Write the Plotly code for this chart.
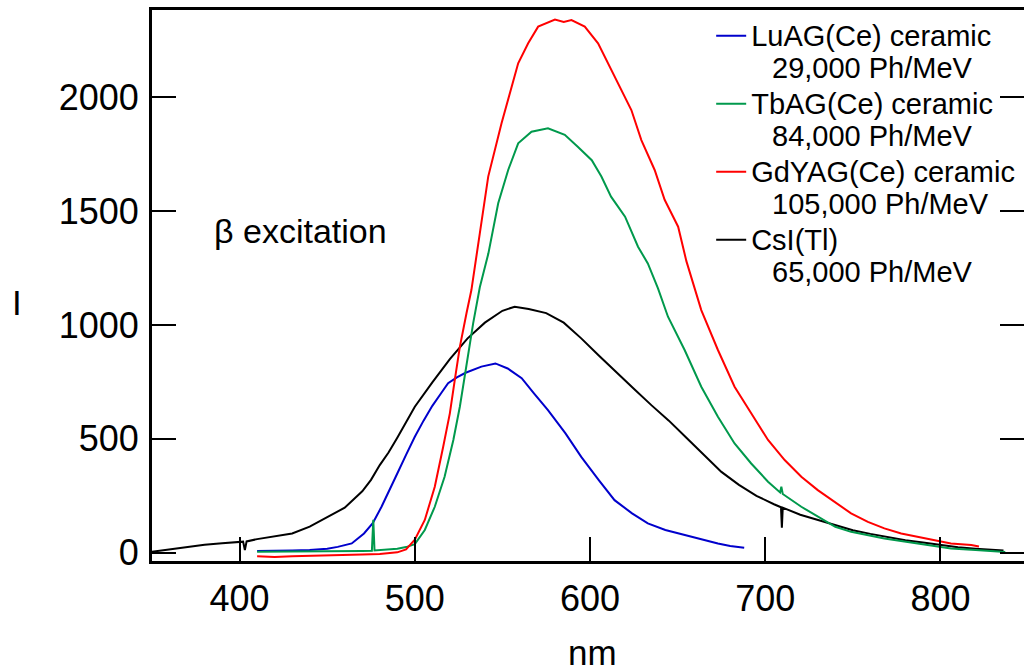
import plotly.graph_objects as go

# ---------------- data ----------------
csi_nm = [350, 360, 370, 380, 390, 400, 402, 403, 404, 410, 420, 430, 440, 450, 460, 470, 475,
          480, 485, 490, 495, 500, 510, 520, 530, 540, 550, 557, 565, 575, 585, 595, 605,
          615, 625, 635, 645, 655, 665, 675, 685, 695, 705, 709, 709.5, 710, 720, 730, 740,
          750, 760, 770, 780, 790, 800, 810, 820, 830, 836]
csi_i = [5, 15, 26, 35, 42, 48, 49, 12, 50, 60, 73, 85, 115, 155, 198, 270, 320,
         385, 440, 505, 575, 641, 748, 850, 940, 1010, 1062, 1080, 1070, 1052, 1010, 941, 866,
         795, 720, 648, 580, 505, 430, 355, 298, 250, 213, 200, 110, 198, 167, 144, 121,
         99, 83, 68, 55, 45, 35, 24, 18, 13, 10]

luag_nm = [410, 420, 430, 440, 450, 456, 464, 471, 476, 481, 486, 490, 495, 500, 505, 510, 515,
           519, 524, 529, 538, 546, 553, 561, 568, 576, 586, 595, 605, 614, 624, 633, 643,
           653, 663, 673, 680, 688]
luag_i = [8, 8, 10, 12, 18, 26, 41, 85, 130, 202, 280, 348, 430, 509, 580, 645, 700,
          744, 770, 790, 817, 831, 809, 766, 700, 626, 524, 421, 319, 231, 173, 129, 100,
          80, 60, 41, 30, 22]

tbag_nm = [410, 430, 450, 470, 475.5, 476.3, 477, 485, 490, 495, 500, 505.7, 511.4, 517, 522,
           525.7, 529.5, 533.3, 537.1, 542, 547.6, 553.3, 559, 566.6, 576, 585.6, 593, 601,
           606.5, 612, 620, 627.4, 633, 638.8, 644.5, 654, 663.5, 673, 682.5, 692, 701.6,
           708.5, 709.2, 710, 720.6, 730, 740, 749, 768, 787, 806, 820, 837]
tbag_i = [5, 5, 6, 8, 9, 145, 10, 14, 18, 25, 38, 100, 202, 334, 495,
          641, 831, 1007, 1165, 1314, 1534, 1680, 1797, 1848, 1863, 1834, 1782, 1723,
          1651, 1563, 1475, 1343, 1270, 1160, 1036, 890, 729, 597, 480, 392, 312,
          265, 290, 258, 202, 158, 114, 92, 63, 41, 19, 12, 4]

gdyag_nm = [410, 420, 430, 440, 450, 460, 470, 480, 490, 495, 500, 505.7, 511.4, 516.2, 520,
            522.8, 525.7, 529.5, 532.3, 537.1, 541.9, 549.5, 559, 564.7, 570.4, 580, 585,
            589.4, 597, 604.6, 610.3, 617.9, 623.6, 629.3, 636.9, 642.6, 650.3, 655, 663.5,
            673, 682.5, 692, 701.6, 711.1, 720.6, 730, 739.6, 749, 758.6, 768, 777.6, 787,
            796.6, 806, 817.6, 822]
gdyag_i = [-15, -18, -15, -14, -12, -10, -8, -5, 2, 15, 58, 144, 290, 465, 612,
           758, 904, 1051, 1153, 1402, 1651, 1885, 2148, 2236, 2309, 2340, 2330,
           2338, 2309, 2236, 2148, 2031, 1943, 1811, 1680, 1549, 1431, 1280, 1065,
           890, 729, 612, 495, 407, 334, 275, 224, 173, 136, 107, 85, 70,
           56, 41, 34, 28]

series_names = [
    "LuAG(Ce) ceramic", "TbAG(Ce) ceramic", "GdYAG(Ce) ceramic", "CsI(Tl)"]
series_yields = ["29,000 Ph/MeV", "84,000 Ph/MeV", "105,000 Ph/MeV", "65,000 Ph/MeV"]
series_colors = ["#0000cc", "#00994c", "#ff0000", "#000000"]

x_ticks = [400, 500, 600, 700, 800]
y_ticks = [0, 500, 1000, 1500, 2000]
x_range = [350, 847.7]
y_range = [-36, 2382]

# ---------------- figure ----------------
OFF = 0  # body margin is removed below
W, H = 1024, 671
ML, MR, MT, MB = 151.5, 0, 10, 110
FONT = "Liberation Sans, Arial, Helvetica, sans-serif"

pw = W - ML - MR
ph = H - MT - MB


def px_x(p):
    return (p - OFF - ML) / pw


def px_y(p):
    return 1 - (p - OFF - MT) / ph


def label(name, yld):
    pad = '<span style="font-size:15px">' + "\u00a0" * 5 + "</span>"
    return ('<span style="font-size:29px">' + name + "</span><br>" + pad +
            '<span style="font-size:29px">' + yld + "</span>")


fig = go.Figure()
data_sets = [(luag_nm, luag_i), (tbag_nm, tbag_i), (gdyag_nm, gdyag_i), (csi_nm, csi_i)]
order = [3, 0, 1, 2]
for k in order:
    xs, ys = data_sets[k]
    fig.add_trace(go.Scatter(
        x=xs, y=ys, mode="lines",
        line=dict(color=series_colors[k], width=2),
        name=label(series_names[k], series_yields[k]),
        legendrank=k + 1,
    ))

fig.update_layout(
    width=W, height=H,
    margin=dict(l=ML, r=MR, t=MT, b=MB, pad=0),
    paper_bgcolor="white", plot_bgcolor="white",
    font=dict(family=FONT, color="black", size=30),
    showlegend=True,
    legend=dict(
        x=px_x(711), y=px_y(13), xanchor="left", yanchor="top",
        font=dict(family=FONT, size=25, color="black"),
        bgcolor="rgba(0,0,0,0)", borderwidth=0,
        valign="top", tracegroupgap=0, itemclick=False,
    ),
    xaxis=dict(
        range=x_range, tickvals=x_ticks, ticktext=[str(v) for v in x_ticks],
        showline=True, linecolor="black", linewidth=3, mirror=True,
        ticks="inside", ticklen=24, tickwidth=2, tickcolor="black",
        showgrid=False, zeroline=False,
        tickfont=dict(family=FONT, size=36, color="black"),
        ticklabelstandoff=4,
    ),
    yaxis=dict(
        range=y_range, tickvals=y_ticks, ticktext=[str(v) for v in y_ticks],
        showline=True, linecolor="black", linewidth=3, mirror=False,
        ticks="inside", ticklen=24, tickwidth=2, tickcolor="black",
        showgrid=False, zeroline=False,
        tickfont=dict(family=FONT, size=36, color="black"),
        ticklabelstandoff=3,
    ),
    yaxis2=dict(
        range=y_range, tickvals=y_ticks, overlaying="y", side="right",
        showline=False, ticks="inside", ticklen=24, tickwidth=2, tickcolor="black",
        showticklabels=False, showgrid=False, zeroline=False,
    ),
    annotations=[
        dict(text="nm", xref="paper", yref="paper", x=px_x(592), y=px_y(652),
             xanchor="center", yanchor="middle", showarrow=False,
             font=dict(family=FONT, size=35, color="black")),
        dict(text="I", xref="paper", yref="paper", x=px_x(16), y=px_y(302),
             xanchor="center", yanchor="middle", showarrow=False,
             font=dict(family=FONT, size=35, color="black")),
        dict(text="\u03b2 excitation", xref="paper", yref="paper", x=px_x(212), y=px_y(231),
             xanchor="left", yanchor="middle", showarrow=False,
             font=dict(family=FONT, size=34, color="black")),
    ],
)

fig.add_trace(go.Scatter(x=[x_range[0]], y=[y_range[0]], yaxis="y2", mode="lines",
                         line=dict(width=0), showlegend=False, hoverinfo="skip"))

fig.write_html(
    "out.html",
    config={"displayModeBar": False},
    post_script="document.body.style.margin='0';document.body.style.overflow='hidden';",
)
